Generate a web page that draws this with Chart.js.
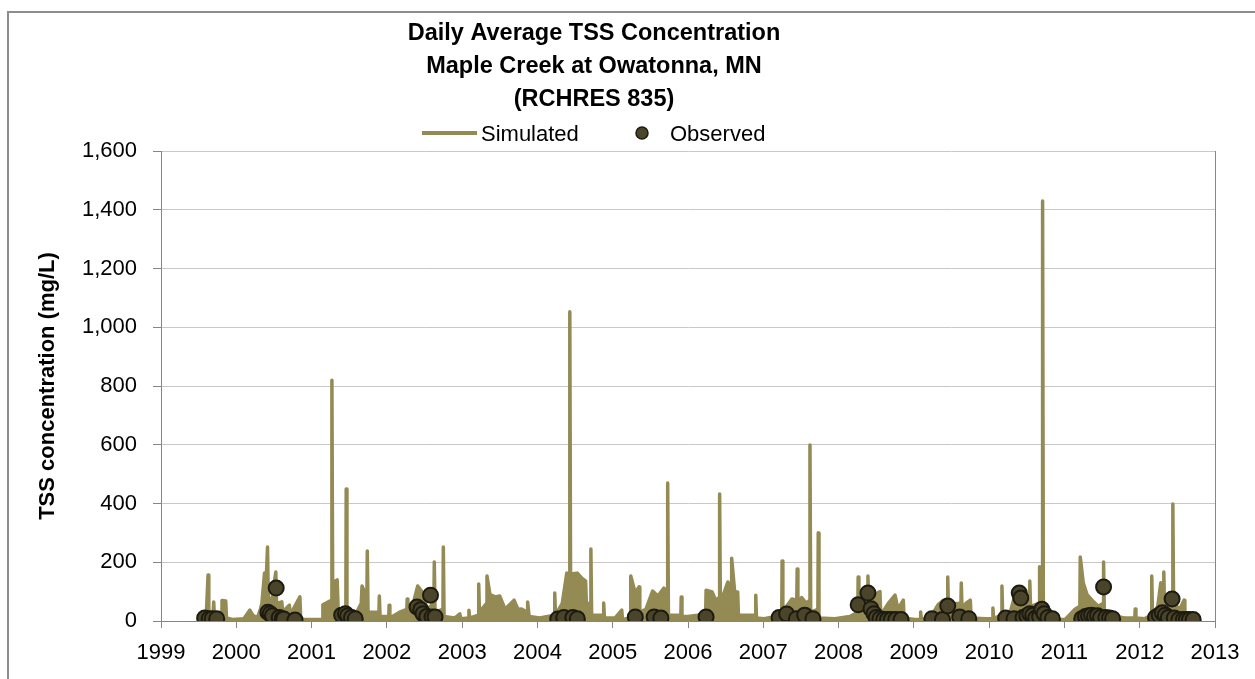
<!DOCTYPE html>
<html>
<head>
<meta charset="utf-8">
<script src="https://cdn.jsdelivr.net/npm/chart.js@4"></script>
<style>
  html, body { margin: 0; padding: 0; background: #fff; }
  canvas { display: block; }
</style>
</head>
<body>
<canvas id="tssChart" width="1255" height="679"></canvas>
<script>
// Titulos
const titleLines = ['Daily Average TSS Concentration', 'Maple Creek at Owatonna, MN', '(RCHRES 835)'];
const seriesNames = ['Simulated', 'Observed'];
const yAxisTitle = 'TSS concentration (mg/L)';

// Simulated (fecha en anos decimales, mg/L)
const simYears = [
  1999.50, 1999.60, 1999.625, 1999.635, 1999.69, 1999.70, 1999.71, 1999.80, 1999.81, 1999.86, 1999.87, 1999.95,
  2000.10, 2000.16, 2000.18, 2000.22, 2000.28, 2000.32, 2000.34, 2000.375, 2000.385, 2000.415, 2000.425, 2000.47, 2000.525, 2000.535, 2000.605, 2000.615, 2000.65, 2000.705, 2000.715, 2000.845, 2000.855, 2000.90,
  2001.14, 2001.15, 2001.22, 2001.265, 2001.27, 2001.28, 2001.34, 2001.355, 2001.455, 2001.46, 2001.47, 2001.58, 2001.66, 2001.67, 2001.735, 2001.74, 2001.75, 2001.895, 2001.90, 2001.91,
  2002.025, 2002.03, 2002.04, 2002.17, 2002.265, 2002.27, 2002.28, 2002.35, 2002.41, 2002.48, 2002.53, 2002.625, 2002.63, 2002.64, 2002.745, 2002.75, 2002.76, 2002.90, 2002.97, 2002.98,
  2003.085, 2003.09, 2003.10, 2003.215, 2003.22, 2003.23, 2003.325, 2003.33, 2003.37, 2003.44, 2003.50, 2003.57, 2003.69, 2003.74, 2003.79, 2003.865, 2003.87, 2003.89,
  2004.03, 2004.225, 2004.23, 2004.24, 2004.33, 2004.39, 2004.425, 2004.43, 2004.44, 2004.53, 2004.59, 2004.64, 2004.65, 2004.705, 2004.71, 2004.72, 2004.875, 2004.88, 2004.89,
  2005.03, 2005.12, 2005.13, 2005.235, 2005.24, 2005.30, 2005.35, 2005.36, 2005.44, 2005.53, 2005.60, 2005.68, 2005.725, 2005.73, 2005.74, 2005.905, 2005.91, 2005.92,
  2006.00, 2006.13, 2006.235, 2006.24, 2006.32, 2006.37, 2006.415, 2006.42, 2006.43, 2006.53, 2006.575, 2006.58, 2006.62, 2006.66, 2006.67, 2006.895, 2006.90, 2006.91,
  2007.01, 2007.16, 2007.245, 2007.25, 2007.26, 2007.31, 2007.38, 2007.445, 2007.45, 2007.46, 2007.51, 2007.57, 2007.615, 2007.62, 2007.63, 2007.725, 2007.73, 2007.74, 2007.95,
  2008.15, 2008.255, 2008.26, 2008.27, 2008.31, 2008.385, 2008.39, 2008.40, 2008.48, 2008.55, 2008.56, 2008.66, 2008.75, 2008.79, 2008.86, 2008.87,
  2009.01, 2009.085, 2009.09, 2009.10, 2009.24, 2009.32, 2009.39, 2009.445, 2009.45, 2009.46, 2009.55, 2009.625, 2009.63, 2009.64, 2009.69, 2009.75, 2009.76, 2009.95,
  2010.045, 2010.05, 2010.06, 2010.165, 2010.17, 2010.18, 2010.28, 2010.34, 2010.41, 2010.48, 2010.535, 2010.54, 2010.55, 2010.665, 2010.67, 2010.705, 2010.71, 2010.72, 2010.81, 2010.85,
  2011.01, 2011.14, 2011.205, 2011.21, 2011.25, 2011.30, 2011.37, 2011.45, 2011.515, 2011.52, 2011.53, 2011.60, 2011.71, 2011.80, 2011.935, 2011.94, 2011.95,
  2012.07, 2012.155, 2012.16, 2012.17, 2012.24, 2012.28, 2012.315, 2012.32, 2012.33, 2012.435, 2012.44, 2012.45, 2012.53, 2012.59, 2012.60, 2012.73
];
const simTss = [
  5, 12, 157, 20, 15, 65, 15, 20, 70, 68, 10, 5,
  8, 30, 37, 20, 10, 40, 60, 163, 60, 252, 80, 70, 167, 60, 65, 30, 40, 54, 20, 82, 10, 5,
  5, 55, 65, 70, 820, 130, 140, 20, 20, 449, 15, 20, 60, 119, 80, 238, 30, 30, 85, 15,
  15, 54, 10, 30, 40, 75, 30, 60, 119, 95, 40, 60, 201, 30, 40, 252, 15, 10, 24, 8,
  10, 37, 10, 20, 126, 30, 60, 153, 90, 82, 85, 40, 71, 40, 41, 30, 65, 15,
  10, 20, 95, 20, 60, 163, 160, 1053, 160, 163, 146, 136, 60, 60, 245, 20, 20, 61, 10,
  10, 37, 5, 10, 153, 95, 116, 30, 40, 102, 85, 112, 100, 470, 20, 20, 82, 15,
  15, 20, 30, 105, 99, 70, 80, 432, 60, 133, 100, 214, 100, 99, 20, 20, 88, 10,
  8, 15, 20, 204, 30, 50, 75, 70, 177, 60, 80, 60, 70, 599, 30, 40, 300, 10, 8,
  15, 30, 150, 50, 70, 80, 153, 60, 90, 100, 20, 60, 88, 40, 71, 10,
  5, 5, 31, 5, 20, 55, 70, 50, 150, 40, 60, 60, 129, 40, 60, 71, 10, 8,
  8, 44, 8, 20, 119, 20, 30, 85, 60, 80, 60, 136, 50, 60, 185, 180, 1430, 60, 20, 5,
  5, 40, 50, 218, 130, 90, 70, 50, 60, 201, 30, 20, 15, 10, 10, 41, 10,
  8, 20, 153, 20, 50, 130, 100, 167, 40, 60, 398, 60, 40, 71, 15, 5
];

// Observed (muestras)
const obsYears = [
  1999.58, 1999.64, 1999.68, 1999.74,
  2000.42, 2000.45, 2000.48, 2000.53, 2000.57, 2000.61, 2000.63, 2000.78,
  2001.40, 2001.45, 2001.48, 2001.53, 2001.58,
  2002.40, 2002.45, 2002.48, 2002.53, 2002.58, 2002.60, 2002.64,
  2004.27, 2004.35, 2004.47, 2004.53,
  2005.30, 2005.55, 2005.64,
  2006.24,
  2007.21, 2007.31, 2007.44, 2007.55, 2007.66,
  2008.26, 2008.39, 2008.43, 2008.47, 2008.50, 2008.55, 2008.60, 2008.65, 2008.70, 2008.76, 2008.83,
  2009.24, 2009.38, 2009.45, 2009.61, 2009.73,
  2010.22, 2010.33, 2010.40, 2010.42, 2010.45, 2010.50, 2010.54, 2010.58, 2010.62, 2010.67, 2010.70, 2010.73, 2010.78, 2010.84,
  2011.23, 2011.28, 2011.32, 2011.36, 2011.40, 2011.44, 2011.48, 2011.52, 2011.55, 2011.60, 2011.64,
  2012.21, 2012.26, 2012.30, 2012.34, 2012.38, 2012.43, 2012.46, 2012.52, 2012.58, 2012.62, 2012.66, 2012.71
];
const obsTss = [
  10, 8, 8, 8,
  30, 25, 18, 112, 12, 8, 7, 3,
  20, 25, 18, 12, 8,
  48, 38, 25, 15, 88, 14, 14,
  7, 12, 12, 8,
  14, 14, 10,
  14,
  12, 24, 8, 20, 8,
  55, 95, 42, 25, 12, 8, 5, 5, 5, 5, 5,
  8, 5, 51, 14, 8,
  10, 8, 95, 78, 12, 18, 25, 20, 10, 15, 40, 25, 12, 8,
  8, 15, 18, 20, 15, 18, 12, 116, 12, 10, 8,
  12, 20, 28, 20, 12, 75, 10, 5, 5, 5, 5, 5
];

const colorSim = '#948A54';
const colorObsFill = '#4A452A';
const colorObsBorder = '#1D1B10';
const axisGray = '#868686';
const gridGray = '#c8c8c8';
const fontBase = '"Liberation Sans", Arial, sans-serif';

// Marco, titulo y leyenda
const headerPlugin = {
    id: 'header',
    beforeDraw(chart) {
        const ctx = chart.ctx;
        ctx.save();
        ctx.strokeStyle = '#8c8c8c';
        ctx.lineWidth = 2;
        ctx.strokeRect(8, 12, 1400, 900);
        ctx.restore();
    },
    afterDraw(chart) {
        const ctx = chart.ctx;
        ctx.save();
        ctx.fillStyle = '#000';
        ctx.textAlign = 'center';
        ctx.textBaseline = 'alphabetic';
        ctx.font = 'bold 23.5px ' + fontBase;
        titleLines.forEach((t, i) => ctx.fillText(t, 594, 40 + i * 33));

        // leyenda
        ctx.strokeStyle = colorSim;
        ctx.lineWidth = 4;
        ctx.beginPath();
        ctx.moveTo(422, 133);
        ctx.lineTo(477, 133);
        ctx.stroke();
        ctx.beginPath();
        ctx.arc(642, 133, 6, 0, Math.PI * 2);
        ctx.fillStyle = colorObsFill;
        ctx.fill();
        ctx.lineWidth = 1.5;
        ctx.strokeStyle = colorObsBorder;
        ctx.stroke();
        ctx.fillStyle = '#000';
        ctx.textAlign = 'left';
        ctx.font = '22px ' + fontBase;
        ctx.fillText(seriesNames[0], 481, 141);
        ctx.fillText(seriesNames[1], 670, 141);
        ctx.restore();
    }
};

document.addEventListener('DOMContentLoaded', () => {
    const ctx = document.getElementById('tssChart').getContext('2d');
    new Chart(ctx, {
        type: 'scatter',
        data: {
            datasets: [{
                label: seriesNames[1],
                data: obsYears.map((x, i) => ({ x: x, y: obsTss[i] })),
                backgroundColor: colorObsFill,
                borderColor: colorObsBorder,
                borderWidth: 2,
                pointRadius: 7.5,
                order: 0
            }, {
                label: seriesNames[0],
                data: simYears.map((x, i) => ({ x: x, y: simTss[i] })),
                showLine: true,
                fill: 'origin',
                borderColor: colorSim,
                backgroundColor: colorSim,
                borderWidth: 3.5,
                borderJoinStyle: 'round',
                pointRadius: 0,
                tension: 0,
                order: 1
            }]
        },
        options: {
            responsive: false,
            animation: false,
            devicePixelRatio: 1,
            layout: { padding: { top: 151, right: 40, left: 0, bottom: 0 } },
            plugins: {
                legend: { display: false },
                title: { display: false },
                tooltip: { enabled: false }
            },
            scales: {
                x: {
                    type: 'linear',
                    min: 1999,
                    max: 2013,
                    afterFit: s => { s.height = 58; },
                    ticks: {
                        stepSize: 1,
                        padding: 12,
                        color: '#000',
                        font: { family: fontBase, size: 22 },
                        callback: v => String(v)
                    },
                    grid: {
                        drawOnChartArea: true,
                        color: c => (c.tick && c.tick.value === 2013) ? axisGray : 'rgba(0,0,0,0)',
                        tickColor: axisGray,
                        tickLength: 7
                    },
                    border: { color: axisGray, width: 1 }
                },
                y: {
                    min: 0,
                    max: 1600,
                    afterFit: s => { s.width = 161; },
                    ticks: {
                        stepSize: 200,
                        padding: 16,
                        color: '#000',
                        font: { family: fontBase, size: 22 }
                    },
                    grid: {
                        color: gridGray,
                        tickColor: axisGray,
                        tickLength: 8
                    },
                    border: { color: axisGray, width: 1 },
                    title: {
                        display: true,
                        text: yAxisTitle,
                        color: '#000',
                        font: { family: fontBase, size: 22, weight: 'bold' },
                        padding: { top: 35, bottom: 0 }
                    }
                }
            }
        },
        plugins: [headerPlugin]
    });
});
</script>
</body>
</html>
